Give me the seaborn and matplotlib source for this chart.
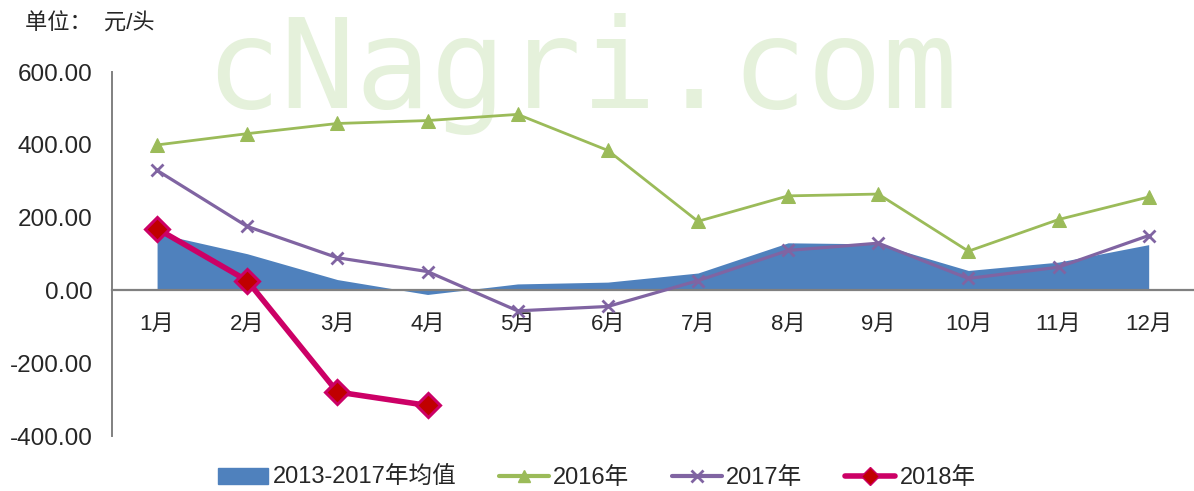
import numpy as np
import pandas as pd
import matplotlib
matplotlib.use("Agg")
import matplotlib.pyplot as plt
import seaborn as sns
from matplotlib.patches import Patch
from matplotlib.lines import Line2D

# 数据
meses = ["1月", "2月", "3月", "4月", "5月", "6月", "7月", "8月", "9月", "10月", "11月", "12月"]
media_2013_2017 = [157, 101, 30, -11, 18, 23, 48, 131, 128, 55, 78, 126]
valores_2016 = [400, 431, 459, 467, 484, 385, 190, 260, 265, 108, 195, 257]
valores_2017 = [330, 176, 90, 52, -56, -44, 27, 110, 130, 33, 64, 151]
valores_2018 = [170, 27, -279, -316]
yticks = [-400, -200, 0, 200, 400, 600]

sns.set_style("white")
plt.rcParams['font.family'] = ['Liberation Sans', 'Noto Sans CJK SC']

fig = plt.figure(figsize=(11.94, 4.91), dpi=100)
ax = fig.add_axes([0.0938, 0.112, 0.906, 0.741])
ax.patch.set_alpha(0)

x = np.arange(len(meses))
df = pd.DataFrame({"x": x, "media": media_2013_2017, "y2016": valores_2016, "y2017": valores_2017})
df18 = pd.DataFrame({"x": x[:len(valores_2018)], "y2018": valores_2018})

# marca de agua
ax.text(0.172, 0.78, "cNagri.com", transform=fig.transFigure, fontsize=90,
        family="DejaVu Sans Mono", color="#e5f1db", ha="left", va="baseline",
        zorder=0, clip_on=False)

ax.fill_between(df["x"], 0, df["media"], color="#4F81BD", lw=0, zorder=1)
sns.lineplot(data=df, x="x", y="y2016", ax=ax, color="#9BBB59", lw=2, marker="^",
             markersize=10, markeredgecolor="#9BBB59", sort=False, zorder=3)
sns.lineplot(data=df, x="x", y="y2017", ax=ax, color="#8064A2", lw=2.3, marker="x",
             markersize=9, markeredgewidth=2, markeredgecolor="#8064A2", sort=False, zorder=4)
sns.lineplot(data=df18, x="x", y="y2018", ax=ax, color="#CC0066", lw=4, marker="D",
             markersize=12, markerfacecolor="#C00000", markeredgecolor="#CC0066",
             markeredgewidth=2.2, sort=False, zorder=5)

ax.set_xlim(-0.5, 11.5)
ax.set_ylim(-400, 600)
ax.set_xlabel("")
ax.set_ylabel("")

ax.spines["top"].set_visible(False)
ax.spines["right"].set_visible(False)
ax.spines["bottom"].set_position(("data", 0))
ax.spines["bottom"].set_color("#808080")
ax.spines["bottom"].set_linewidth(1.6)
ax.spines["bottom"].set_zorder(2)
ax.spines["left"].set_color("#808080")
ax.spines["left"].set_linewidth(1.4)

ax.set_yticks(yticks)
ax.set_yticklabels([f"{v:.2f}" for v in yticks])
ax.tick_params(axis="y", direction="in", length=5, width=1.4, color="#808080",
               labelsize=17.5, pad=14)

ax.set_xticks(x)
ax.set_xticklabels(meses)
ax.set_xticks(np.arange(-0.5, 12, 1), minor=True)
ax.tick_params(axis="x", which="major", length=0, labelsize=16, pad=17)
ax.tick_params(axis="x", which="minor", direction="in", length=5, width=1.4, color="#808080")

fig.text(0.021, 0.95, "单位：  元/头", fontsize=16, ha="left", va="center")

handles = [
    Patch(facecolor="#4F81BD", edgecolor="#4F81BD", label="2013-2017年均值"),
    Line2D([], [], color="#9BBB59", lw=3, marker="^", markersize=9, label="2016年"),
    Line2D([], [], color="#8064A2", lw=3, marker="x", markersize=9, markeredgewidth=2, label="2017年"),
    Line2D([], [], color="#CC0066", lw=4, marker="D", markersize=9,
           markerfacecolor="#C00000", markeredgecolor="#CC0066", label="2018年"),
]
fig.legend(handles=handles, loc="center", bbox_to_anchor=(0.5, 0.026), ncol=4,
           frameon=False, fontsize=17, handlelength=2.1, handletextpad=0.2,
           columnspacing=1.8)

plt.savefig("out.png", dpi=100)
plt.close()
